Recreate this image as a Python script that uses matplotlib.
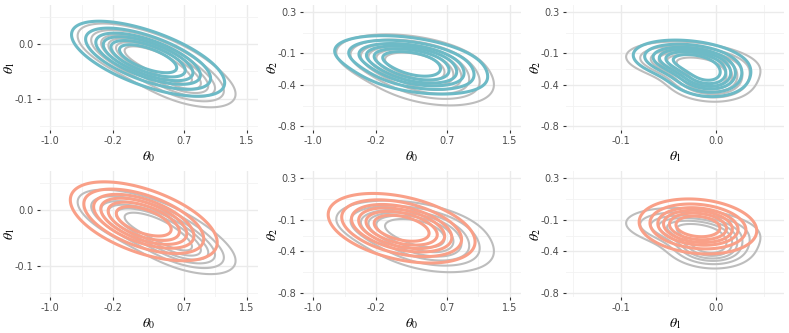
import numpy as np
import matplotlib.pyplot as plt

plt.rcParams['mathtext.fontset'] = 'stix'
plt.rcParams['font.family'] = ['DejaVu Sans']

# contour levels, as fraction of peak density
levels = [0.14, 0.27, 0.40, 0.51, 0.63, 0.76]

# axis settings per parameter: limits, major breaks, label
lims = {0: (-1.127, 1.64), 1: (-0.157, 0.071), 2: (-0.835, 0.365)}
breaks = {0: [-1.0, -0.2, 0.7, 1.5], 1: [-0.1, 0.0], 2: [0.3, -0.1, -0.4, -0.8]}
minor = {0: [-0.6, 0.25, 1.1], 1: [-0.15, -0.05, 0.05], 2: [0.1, -0.25, -0.6]}
tick_labels = {0: ['-1.0', '-0.2', '0.7', '1.5'], 1: ['-0.1', '0.0'],
               2: ['0.3', '-0.1', '-0.4', '-0.8']}
pairs = [(0, 1), (0, 2), (1, 2)]

# mixture components: (weight, mean x, mean y, sd x, sd y, rho)
gray = [
    [(0.75, 0.245, -0.025, 0.46, 0.032, -0.64), (0.25, 0.75, -0.075, 0.35, 0.025, -0.50)],
    [(0.60, 0.20, -0.160, 0.48, 0.130, -0.30), (0.40, 0.52, -0.370, 0.45, 0.140, -0.30)],
    [(0.60, -0.026, -0.180, 0.037, 0.105, -0.25), (0.40, -0.006, -0.370, 0.024, 0.105, -0.10)],
]
teal = [
    [(1.0, 0.245, -0.027, 0.49, 0.0345, -0.64)],
    [(0.7, 0.20, -0.150, 0.48, 0.115, -0.35), (0.3, 0.42, -0.330, 0.44, 0.100, -0.30)],
    [(0.65, -0.028, -0.165, 0.031, 0.102, -0.25), (0.35, -0.008, -0.340, 0.022, 0.100, -0.10)],
]
salmon = [
    [(1.0, 0.19, -0.020, 0.47, 0.036, -0.54)],
    [(1.0, 0.125, -0.180, 0.47, 0.167, -0.39)],
    [(1.0, -0.019, -0.163, 0.031, 0.132, -0.16)],
]

colors = {'gray': '#BDBDBD', 'teal': '#6DBAC6', 'salmon': '#F9A088'}


def density(comps, X, Y):
    Z = np.zeros_like(X)
    for w, mx, my, sx, sy, r in comps:
        u = (X - mx) / sx
        v = (Y - my) / sy
        q = (u ** 2 - 2 * r * u * v + v ** 2) / (1 - r ** 2)
        Z += w * np.exp(-q / 2) / (sx * sy * np.sqrt(1 - r ** 2))
    return Z / Z.max()


fig = plt.figure(figsize=(7.89, 3.33), dpi=100)
lefts = [40 / 789, 303 / 789, 566 / 789]
width = 218 / 789
rows = [(1 - 130 / 333, 125 / 333), (1 - 297 / 333, 126 / 333)]

for row, col_data, col in [(0, teal, colors['teal']), (1, salmon, colors['salmon'])]:
    for j, (px, py) in enumerate(pairs):
        ax = fig.add_axes([lefts[j], rows[row][0], width, rows[row][1]])
        x = np.linspace(*lims[px], 300)
        y = np.linspace(*lims[py], 300)
        X, Y = np.meshgrid(x, y)
        ax.contour(X, Y, density(gray[j], X, Y), levels=levels,
                   colors=colors['gray'], linewidths=1.5)
        ax.contour(X, Y, density(col_data[j], X, Y), levels=levels,
                   colors=col, linewidths=2.2)
        ax.set_xlim(lims[px])
        ax.set_ylim(lims[py])
        ax.set_xticks(breaks[px])
        ax.set_xticklabels(tick_labels[px])
        ax.set_yticks(breaks[py])
        ax.set_yticklabels(tick_labels[py])
        ax.set_xticks(minor[px], minor=True)
        ax.set_yticks(minor[py], minor=True)
        ax.grid(True, which='major', color='#EBEBEB', linewidth=1.0)
        ax.grid(True, which='minor', color='#F2F2F2', linewidth=0.6)
        ax.set_axisbelow(True)
        for s in ax.spines.values():
            s.set_visible(False)
        ax.tick_params(which='major', length=2.5, width=0.8, color='#333333',
                       labelsize=7, labelcolor='#4D4D4D', pad=2)
        ax.tick_params(which='minor', length=0)
        ax.set_xlabel(r'$\theta_{%d}$' % px, fontsize=10, labelpad=2)
        ax.set_ylabel(r'$\theta_{%d}$' % py, fontsize=10)
        ax.yaxis.set_label_coords(-0.105, 0.5)

fig.savefig('out.png', dpi=100)
